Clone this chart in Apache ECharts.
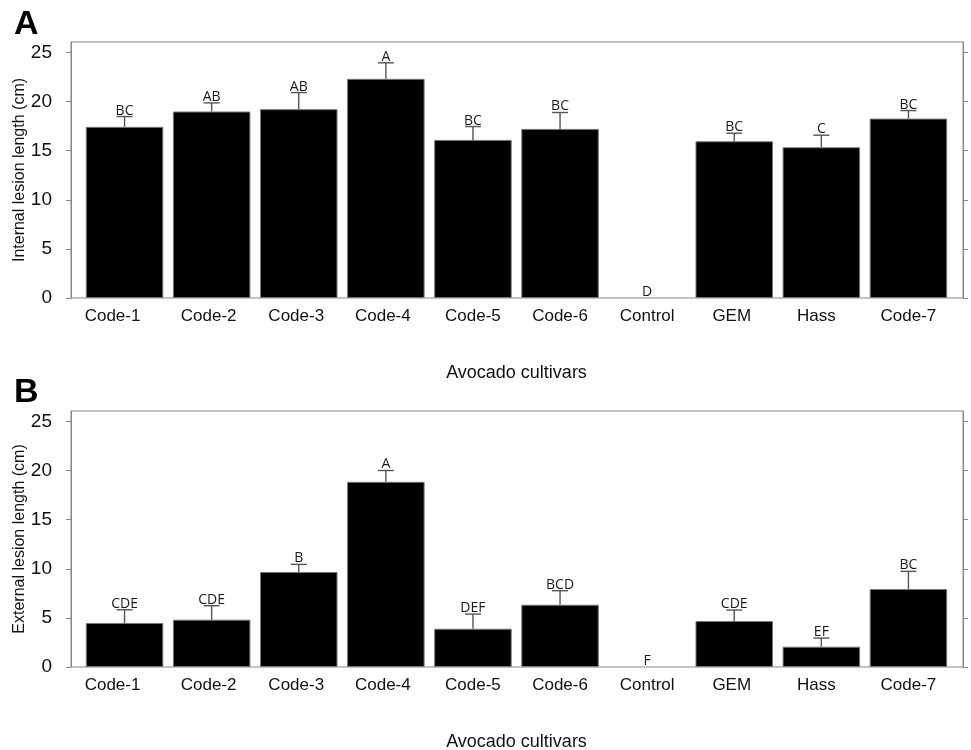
<!DOCTYPE html>
<html>
<head>
<meta charset="utf-8">
<script src="https://cdn.jsdelivr.net/npm/echarts@6/dist/echarts.min.js"></script>
<style>html,body{margin:0;padding:0;background:#fff}#c{width:971px;height:750px}</style>
</head>
<body>
<div id="c"></div>
<script>
var categories = ['Code-1','Code-2','Code-3','Code-4','Code-5','Code-6','Control','GEM','Hass','Code-7'];
var yTicks = [0, 5, 10, 15, 20, 25];
var internalMean = [17.43, 18.99, 19.23, 22.32, 16.10, 17.22, 0, 15.96, 15.35, 18.27];
var internalErr = [1.05, 0.88, 1.69, 1.63, 1.36, 1.67, 0, 0.82, 1.23, 0.82];
var internalLetters = ['BC','AB','AB','A','BC','BC','D','BC','C','BC'];
var externalMean = [4.48, 4.82, 9.67, 18.86, 3.90, 6.34, 0, 4.68, 2.07, 7.94];
var externalErr = [1.35, 1.42, 0.78, 1.15, 1.49, 1.43, 0, 1.12, 0.88, 1.80];
var externalLetters = ['CDE','CDE','B','A','DEF','BCD','F','CDE','EF','BC'];

var FONT = 'Liberation Sans, Arial, sans-serif';
var YMAX = 26.07;
var AXC = '#888';
// label nudges (right padding shifts a label left) to follow the original's placement
var labelPadRight = {'Code-1': 24, 'Hass': 10, 'GEM': 5, 'Code-2': 6, 'Code-3': 5, 'Code-4': 6};

function makeErr(letters) {
  return function (params, api) {
    var i = api.value(0), m = api.value(1), e = api.value(2);
    var base = api.coord([i, m]);
    var top = api.coord([i, m + e]);
    var children = [];
    if (e > 0) {
      children.push({type:'line', shape:{x1:base[0], y1:base[1], x2:top[0], y2:top[1]}, style:{stroke:'#555', lineWidth:1.4}});
      children.push({type:'line', shape:{x1:top[0]-8, y1:top[1], x2:top[0]+8, y2:top[1]}, style:{stroke:'#555', lineWidth:1.4}});
    }
    children.push({type:'text', style:{x:top[0], y:top[1]+1, text:letters[params.dataIndex], fill:'#1a1a1a',
      font:'14px "Open Sans", sans-serif', textAlign:'center', textVerticalAlign:'bottom', verticalAlign:'bottom'}});
    return {type:'group', children:children};
  };
}

var panels = [
  {top:42, mean:internalMean, err:internalErr, letters:internalLetters, yname:'Internal lesion length (cm)'},
  {top:411, mean:externalMean, err:externalErr, letters:externalLetters, yname:'External lesion length (cm)'}
];

var catData = categories.map(function (c) {
  var pr = labelPadRight[c] || 0;
  return {value:c, textStyle:{padding:[0, pr, 0, 0]}};
});

var option = {
  backgroundColor:'#fff',
  animation:false,
  title:[
    {text:'A', left:9, top:3, textStyle:{fontSize:34, fontWeight:'bold', fontFamily:FONT, color:'#000'}},
    {text:'B', left:9, top:371, textStyle:{fontSize:34, fontWeight:'bold', fontFamily:FONT, color:'#000'}}
  ],
  grid:[], xAxis:[], yAxis:[], series:[]
};

panels.forEach(function (p, k) {
  var gBox = k*2, gBar = k*2+1;
  option.grid.push({left:71, right:8, top:p.top, height:256, show:true, borderColor:AXC, borderWidth:1,
    backgroundColor:'transparent', containLabel:false, outerBoundsMode:'none'});
  option.grid.push({left:81, right:19, top:p.top, height:256, containLabel:false, outerBoundsMode:'none'});
  option.xAxis.push({type:'value', gridIndex:gBox, show:false, min:0, max:1});
  option.xAxis.push({type:'category', gridIndex:gBar, data:catData, boundaryGap:true,
    axisLine:{show:false}, axisTick:{show:false},
    axisLabel:{fontSize:17, fontFamily:FONT, color:'#111', margin:10, interval:0},
    name:'Avocado cultivars', nameLocation:'middle', nameGap:66, nameMoveOverlap:false,
    nameTextStyle:{fontSize:18, fontFamily:FONT, color:'#111'}});
  var yBase = {type:'value', min:0, max:YMAX, interval:5, splitLine:{show:false}};
  option.yAxis.push(Object.assign({}, yBase, {gridIndex:gBox, position:'left',
    axisLine:{show:true, lineStyle:{color:AXC}},
    axisTick:{show:true, length:5, lineStyle:{color:AXC}, customValues:yTicks},
    axisLabel:{fontSize:19, fontFamily:FONT, color:'#111', margin:19, customValues:yTicks},
    name:p.yname, nameLocation:'middle', nameGap:43, nameRotate:90, nameMoveOverlap:false,
    nameTextStyle:{fontSize:16, fontFamily:FONT, color:'#111'}}));
  option.yAxis.push(Object.assign({}, yBase, {gridIndex:gBox, position:'right',
    axisLine:{show:true, lineStyle:{color:AXC}},
    axisTick:{show:true, length:5, lineStyle:{color:AXC}, customValues:yTicks},
    axisLabel:{show:false}}));
  option.yAxis.push(Object.assign({}, yBase, {gridIndex:gBar, show:false}));
  var yBarIdx = k*3+2;
  option.series.push({type:'bar', xAxisIndex:gBar, yAxisIndex:yBarIdx, barWidth:77.5,
    data:p.mean.map(function (m) {
      return {value:m, itemStyle:{borderWidth: m > 0 ? 1 : 0}};
    }),
    itemStyle:{color:'#000', borderColor:'#777', borderWidth:1}});
  option.series.push({type:'custom', xAxisIndex:gBar, yAxisIndex:yBarIdx, clip:false, z:5,
    renderItem:makeErr(p.letters),
    data:p.mean.map(function (m, i) { return [i, m, p.err[i]]; })});
});

var chart = echarts.init(document.getElementById('c'));
chart.setOption(option);
</script>
</body>
</html>
